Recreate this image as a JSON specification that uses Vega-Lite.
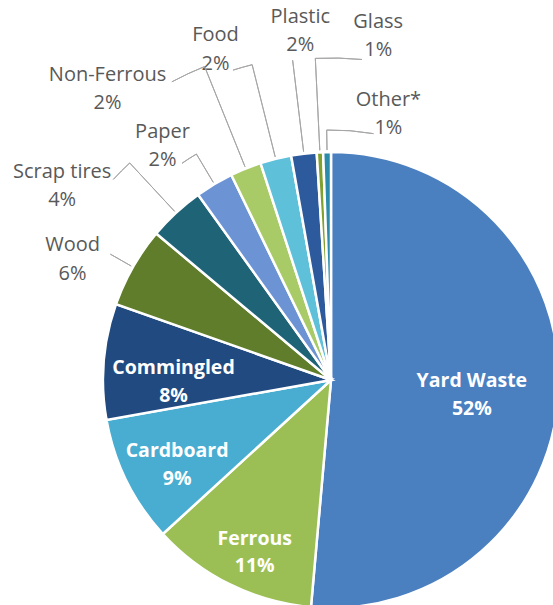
{
  "$schema": "https://vega.github.io/schema/vega-lite/v6.json",
  "width": 444,
  "height": 450,
  "autosize": {"type": "none"},
  "padding": {"left": 109, "top": 155, "right": 0, "bottom": 0},
  "background": "white",
  "config": {"view": {"stroke": null}, "text": {"font": "Open Sans"}},
  "data": {"values": [
    {"name": "Yard Waste", "pct": "52%", "value": 51.4, "order": 1},
    {"name": "Ferrous", "pct": "11%", "value": 11.8, "order": 2},
    {"name": "Cardboard", "pct": "9%", "value": 9.0, "order": 3},
    {"name": "Commingled", "pct": "8%", "value": 8.2, "order": 4},
    {"name": "Wood", "pct": "6%", "value": 5.7, "order": 5},
    {"name": "Scrap tires", "pct": "4%", "value": 4.0, "order": 6},
    {"name": "Paper", "pct": "2%", "value": 2.7, "order": 7},
    {"name": "Non-Ferrous", "pct": "2%", "value": 2.2, "order": 8},
    {"name": "Food", "pct": "2%", "value": 2.2, "order": 9},
    {"name": "Plastic", "pct": "2%", "value": 1.8, "order": 10},
    {"name": "Glass", "pct": "1%", "value": 0.45, "order": 11},
    {"name": "Other*", "pct": "1%", "value": 0.55, "order": 12}
  ]},
  "transform": [
    {"stack": "value", "groupby": [], "sort": [{"field": "order", "order": "ascending"}], "as": ["v0", "v1"]},
    {"calculate": "(datum.v0 + datum.v1) / 2", "as": "mid"},
    {"calculate": "datum.name + '\\n' + datum.pct", "as": "label"}
  ],
  "layer": [
    {
      "mark": {"type": "arc", "radius": 228, "stroke": "white", "strokeWidth": 2.5},
      "encoding": {
        "theta": {"field": "v0", "type": "quantitative", "scale": {"domain": [0, 100]}, "stack": null},
        "theta2": {"field": "v1"},
        "color": {"field": "name", "type": "nominal", "legend": null,
          "scale": {"domain": ["Yard Waste", "Ferrous", "Cardboard", "Commingled", "Wood", "Scrap tires", "Paper", "Non-Ferrous", "Food", "Plastic", "Glass", "Other*"],
                    "range": ["#4a7fc0", "#9bbf55", "#48add0", "#214b80", "#5f7d2a", "#1f6377", "#6c94d4", "#a8cb68", "#5fc0da", "#2d5a9c", "#80a030", "#2a8bab"]}}
      }
    },
    {
      "transform": [{"filter": "datum.name === 'Yard Waste'"}],
      "mark": {"type": "text", "radius": 142, "dx": -1, "dy": -5, "align": "center", "baseline": "middle", "lineBreak": "\n", "lineHeight": 27.5, "fontSize": 19.5, "fontWeight": "bold", "color": "white"},
      "encoding": {"theta": {"field": "mid", "type": "quantitative", "scale": {"domain": [0, 100]}, "stack": null}, "text": {"field": "label", "type": "nominal"}}
    },
    {
      "transform": [{"filter": "datum.name === 'Ferrous'"}],
      "mark": {"type": "text", "radius": 188, "dx": 7, "dy": -10, "align": "center", "baseline": "middle", "lineBreak": "\n", "lineHeight": 27.5, "fontSize": 19.5, "fontWeight": "bold", "color": "white"},
      "encoding": {"theta": {"field": "mid", "type": "quantitative", "scale": {"domain": [0, 100]}, "stack": null}, "text": {"field": "label", "type": "nominal"}}
    },
    {
      "transform": [{"filter": "datum.name === 'Cardboard'"}],
      "mark": {"type": "text", "radius": 175, "dx": 3, "dy": -6, "align": "center", "baseline": "middle", "lineBreak": "\n", "lineHeight": 27.5, "fontSize": 19.5, "fontWeight": "bold", "color": "white"},
      "encoding": {"theta": {"field": "mid", "type": "quantitative", "scale": {"domain": [0, 100]}, "stack": null}, "text": {"field": "label", "type": "nominal"}}
    },
    {
      "transform": [{"filter": "datum.name === 'Commingled'"}],
      "mark": {"type": "text", "radius": 158, "dx": 0, "dy": 1, "align": "center", "baseline": "middle", "lineBreak": "\n", "lineHeight": 27.5, "fontSize": 19.5, "fontWeight": "bold", "color": "white"},
      "encoding": {"theta": {"field": "mid", "type": "quantitative", "scale": {"domain": [0, 100]}, "stack": null}, "text": {"field": "label", "type": "nominal"}}
    },
    {
      "transform": [{"filter": "datum.name === 'Plastic'"}],
      "layer": [
        {"mark": {"type": "arc", "radius": 322, "radius2": 230, "filled": false, "color": "#a6a6a6", "strokeWidth": 1},
         "encoding": {"theta": {"field": "mid", "type": "quantitative", "scale": {"domain": [0, 100]}, "stack": null}, "theta2": {"field": "mid"}}},
        {"mark": {"type": "text", "radius": 350, "dx": 11, "dy": -15.75, "align": "center", "baseline": "middle", "lineBreak": "\n", "lineHeight": 28.5, "fontSize": 20, "color": "#595959"},
         "encoding": {"theta": {"field": "mid", "type": "quantitative", "scale": {"domain": [0, 100]}, "stack": null}, "text": {"field": "label", "type": "nominal"}}}
      ]
    },
    {
      "transform": [{"filter": "datum.name === 'Glass'"}],
      "layer": [
        {"mark": {"type": "arc", "radius": 322, "radius2": 230, "filled": false, "color": "#a6a6a6", "strokeWidth": 1},
         "encoding": {"theta": {"field": "mid", "type": "quantitative", "scale": {"domain": [0, 100]}, "stack": null}, "theta2": {"field": "mid"}}},
        {"mark": {"type": "arc", "radius": 322, "radius2": 322, "theta2Offset": 0.145, "filled": false, "color": "#a6a6a6", "strokeWidth": 1},
         "encoding": {"theta": {"field": "mid", "type": "quantitative", "scale": {"domain": [0, 100]}, "stack": null}, "theta2": {"field": "mid"}}},
        {"mark": {"type": "text", "radius": 345, "dx": 64, "dy": -13.75, "align": "center", "baseline": "middle", "lineBreak": "\n", "lineHeight": 28.5, "fontSize": 20, "color": "#595959"},
         "encoding": {"theta": {"field": "mid", "type": "quantitative", "scale": {"domain": [0, 100]}, "stack": null}, "text": {"field": "label", "type": "nominal"}}}
      ]
    },
    {
      "transform": [{"filter": "datum.name === 'Other*'"}],
      "layer": [
        {"mark": {"type": "arc", "radius": 250, "radius2": 230, "filled": false, "color": "#a6a6a6", "strokeWidth": 1},
         "encoding": {"theta": {"field": "mid", "type": "quantitative", "scale": {"domain": [0, 100]}, "stack": null}, "theta2": {"field": "mid"}}},
        {"mark": {"type": "arc", "radius": 250, "radius2": 250, "theta2Offset": 0.188, "filled": false, "color": "#a6a6a6", "strokeWidth": 1},
         "encoding": {"theta": {"field": "mid", "type": "quantitative", "scale": {"domain": [0, 100]}, "stack": null}, "theta2": {"field": "mid"}}},
        {"mark": {"type": "text", "radius": 266, "dx": 62, "dy": -14.25, "align": "center", "baseline": "middle", "lineBreak": "\n", "lineHeight": 28.5, "fontSize": 20, "color": "#595959"},
         "encoding": {"theta": {"field": "mid", "type": "quantitative", "scale": {"domain": [0, 100]}, "stack": null}, "text": {"field": "label", "type": "nominal"}}}
      ]
    },
    {
      "transform": [{"filter": "datum.name === 'Food'"}],
      "layer": [
        {"mark": {"type": "arc", "radius": 325, "radius2": 230, "filled": false, "color": "#a6a6a6", "strokeWidth": 1},
         "encoding": {"theta": {"field": "mid", "type": "quantitative", "scale": {"domain": [0, 100]}, "stack": null}, "theta2": {"field": "mid"}}},
        {"mark": {"type": "arc", "radius": 325, "radius2": 325, "theta2Offset": -0.061, "filled": false, "color": "#a6a6a6", "strokeWidth": 1},
         "encoding": {"theta": {"field": "mid", "type": "quantitative", "scale": {"domain": [0, 100]}, "stack": null}, "theta2": {"field": "mid"}}},
        {"mark": {"type": "text", "radius": 340, "dx": -33, "dy": -15, "align": "center", "baseline": "middle", "lineBreak": "\n", "lineHeight": 28.5, "fontSize": 20, "color": "#595959"},
         "encoding": {"theta": {"field": "mid", "type": "quantitative", "scale": {"domain": [0, 100]}, "stack": null}, "text": {"field": "label", "type": "nominal"}}}
      ]
    },
    {
      "transform": [{"filter": "datum.name === 'Non-Ferrous'"}],
      "layer": [
        {"mark": {"type": "arc", "radius": 338, "radius2": 230, "filled": false, "color": "#a6a6a6", "strokeWidth": 1},
         "encoding": {"theta": {"field": "mid", "type": "quantitative", "scale": {"domain": [0, 100]}, "stack": null}, "theta2": {"field": "mid"}}},
        {"mark": {"type": "arc", "radius": 338, "radius2": 338, "theta2Offset": -0.107, "filled": false, "color": "#a6a6a6", "strokeWidth": 1},
         "encoding": {"theta": {"field": "mid", "type": "quantitative", "scale": {"domain": [0, 100]}, "stack": null}, "theta2": {"field": "mid"}}},
        {"mark": {"type": "text", "radius": 330, "dx": -100, "dy": 0.75, "align": "center", "baseline": "middle", "lineBreak": "\n", "lineHeight": 28.5, "fontSize": 20, "color": "#595959"},
         "encoding": {"theta": {"field": "mid", "type": "quantitative", "scale": {"domain": [0, 100]}, "stack": null}, "text": {"field": "label", "type": "nominal"}}}
      ]
    },
    {
      "transform": [{"filter": "datum.name === 'Paper'"}],
      "layer": [
        {"mark": {"type": "arc", "radius": 263, "radius2": 230, "filled": false, "color": "#a6a6a6", "strokeWidth": 1},
         "encoding": {"theta": {"field": "mid", "type": "quantitative", "scale": {"domain": [0, 100]}, "stack": null}, "theta2": {"field": "mid"}}},
        {"mark": {"type": "arc", "radius": 263, "radius2": 263, "theta2Offset": -0.065, "filled": false, "color": "#a6a6a6", "strokeWidth": 1},
         "encoding": {"theta": {"field": "mid", "type": "quantitative", "scale": {"domain": [0, 100]}, "stack": null}, "theta2": {"field": "mid"}}},
        {"mark": {"type": "text", "radius": 255, "dx": -38, "dy": -29, "align": "center", "baseline": "middle", "lineBreak": "\n", "lineHeight": 28.5, "fontSize": 20, "color": "#595959"},
         "encoding": {"theta": {"field": "mid", "type": "quantitative", "scale": {"domain": [0, 100]}, "stack": null}, "text": {"field": "label", "type": "nominal"}}}
      ]
    },
    {
      "transform": [{"filter": "datum.name === 'Scrap tires'"}],
      "layer": [
        {"mark": {"type": "arc", "radius": 296, "radius2": 230, "filled": false, "color": "#a6a6a6", "strokeWidth": 1},
         "encoding": {"theta": {"field": "mid", "type": "quantitative", "scale": {"domain": [0, 100]}, "stack": null}, "theta2": {"field": "mid"}}},
        {"mark": {"type": "arc", "radius": 296, "radius2": 296, "theta2Offset": -0.0785, "filled": false, "color": "#a6a6a6", "strokeWidth": 1},
         "encoding": {"theta": {"field": "mid", "type": "quantitative", "scale": {"domain": [0, 100]}, "stack": null}, "theta2": {"field": "mid"}}},
        {"mark": {"type": "text", "radius": 288, "dx": -73, "dy": 2.75, "align": "center", "baseline": "middle", "lineBreak": "\n", "lineHeight": 28.5, "fontSize": 20, "color": "#595959"},
         "encoding": {"theta": {"field": "mid", "type": "quantitative", "scale": {"domain": [0, 100]}, "stack": null}, "text": {"field": "label", "type": "nominal"}}}
      ]
    },
    {
      "transform": [{"filter": "datum.name === 'Wood'"}],
      "layer": [
        {"mark": {"type": "arc", "radius": 254, "radius2": 230, "filled": false, "color": "#a6a6a6", "strokeWidth": 1},
         "encoding": {"theta": {"field": "mid", "type": "quantitative", "scale": {"domain": [0, 100]}, "stack": null}, "theta2": {"field": "mid"}}},
        {"mark": {"type": "text", "radius": 248, "dx": -43, "dy": -12, "align": "center", "baseline": "middle", "lineBreak": "\n", "lineHeight": 28.5, "fontSize": 20, "color": "#595959"},
         "encoding": {"theta": {"field": "mid", "type": "quantitative", "scale": {"domain": [0, 100]}, "stack": null}, "text": {"field": "label", "type": "nominal"}}}
      ]
    }
  ]
}
